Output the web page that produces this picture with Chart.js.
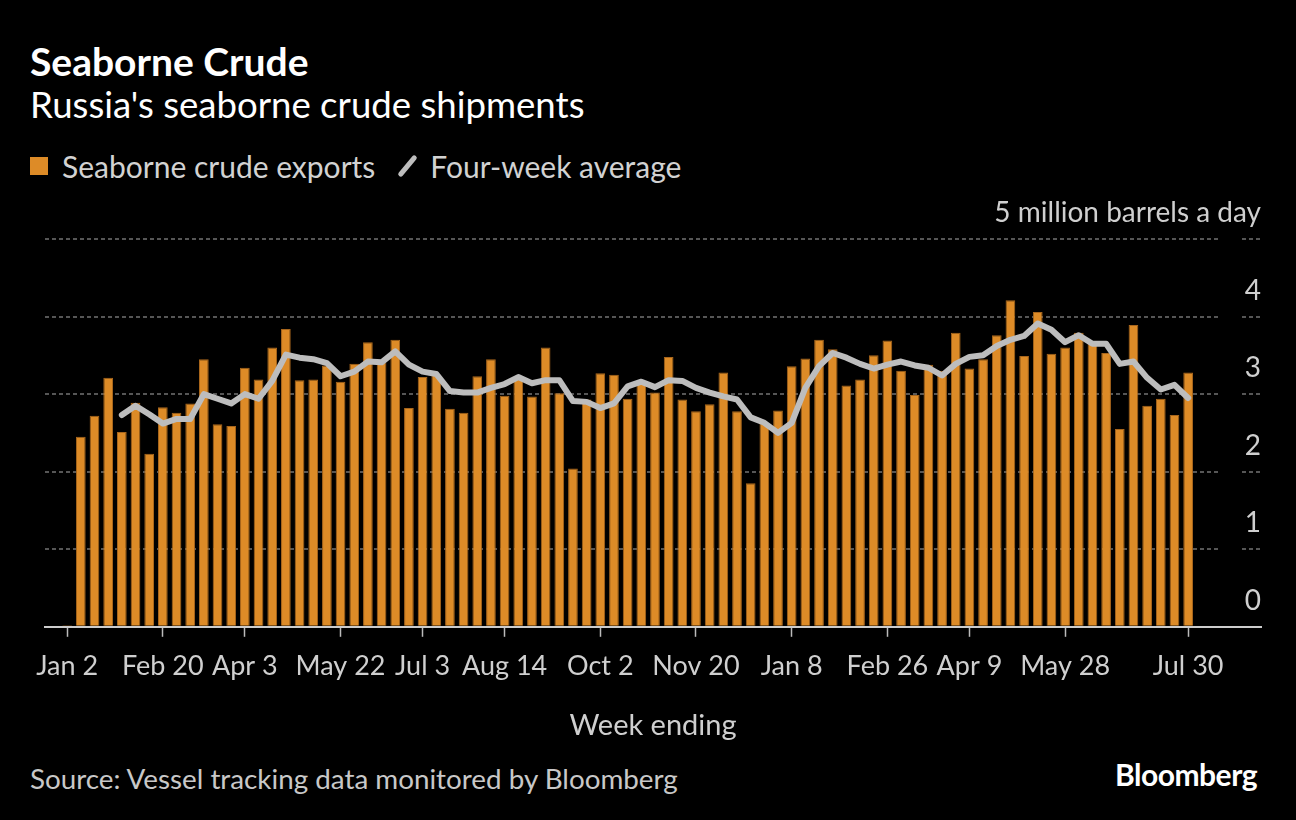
<!DOCTYPE html>
<html>
<head>
<meta charset="utf-8">
<title>Seaborne Crude</title>
<script src="https://cdn.jsdelivr.net/npm/chart.js@4.4.0/dist/chart.umd.min.js"></script>
<style>
  body {
    margin: 0;
    width: 1296px;
    height: 820px;
    overflow: hidden;
    background: #000;
    color: #fff;
    font-family: Lato, "Noto Sans", sans-serif;
    position: relative;
  }
  .txt { position: absolute; white-space: nowrap; line-height: 1.2; }
  #title { left: 30px; top: 38px; font-size: 39px; font-weight: bold; }
  #subtitle { left: 30px; top: 83px; font-size: 36.6px; }
  #legend { left: 30px; top: 148px; font-size: 30px; color: #d2d2d2; display: flex; align-items: center; }
  .swatch { display: inline-block; width: 18px; height: 18px; background: #dd8b27; margin-right: 14px; }
  .slash { display: inline-block; width: 5px; height: 26px; background: #bdbdbd; border-radius: 3px;
           transform: rotate(40deg); margin: 0 20px 0 30px; }
  #source { left: 30px; top: 762px; font-size: 27.8px; color: #c8c8c8; }
  #logo { right: 39px; top: 756px; font-size: 30px; font-weight: bold; letter-spacing: -0.5px; }
  #wrap { position: absolute; left: 0; top: 180px; width: 1296px; height: 580px; }
</style>
</head>
<body>
<div class="txt" id="title">Seaborne Crude</div>
<div class="txt" id="subtitle">Russia's seaborne crude shipments</div>
<div class="txt" id="legend"><span class="swatch"></span>Seaborne crude exports<span class="slash"></span>Four-week average</div>
<div class="txt" id="source">Source: Vessel tracking data monitored by Bloomberg</div>
<div class="txt" id="logo">Bloomberg</div>
<div id="wrap"><canvas id="chart"></canvas></div>

<script>
// week ending dates, Jan 2 2022 .. Jul 30 2023
const weeks = [
  "Jan 2", "Jan 9", "Jan 16", "Jan 23", "Jan 30", "Feb 6", "Feb 13", "Feb 20", "Feb 27",
  "Mar 6", "Mar 13", "Mar 20", "Mar 27", "Apr 3", "Apr 10", "Apr 17", "Apr 24",
  "May 1", "May 8", "May 15", "May 22", "May 29", "Jun 5", "Jun 12", "Jun 19", "Jun 26",
  "Jul 3", "Jul 10", "Jul 17", "Jul 24", "Jul 31", "Aug 7", "Aug 14", "Aug 21", "Aug 28",
  "Sep 4", "Sep 11", "Sep 18", "Sep 25", "Oct 2", "Oct 9", "Oct 16", "Oct 23", "Oct 30",
  "Nov 6", "Nov 13", "Nov 20", "Nov 27", "Dec 4", "Dec 11", "Dec 18", "Dec 25",
  "Jan 1", "Jan 8", "Jan 15", "Jan 22", "Jan 29", "Feb 5", "Feb 12", "Feb 19", "Feb 26",
  "Mar 5", "Mar 12", "Mar 19", "Mar 26", "Apr 2", "Apr 9", "Apr 16", "Apr 23", "Apr 30",
  "May 7", "May 14", "May 21", "May 28", "Jun 4", "Jun 11", "Jun 18", "Jun 25",
  "Jul 2", "Jul 9", "Jul 16", "Jul 23", "Jul 30"
];

// million barrels a day
const exportsMbd = [
  0.02, 2.45, 2.72, 3.21, 2.51, 2.89, 2.23, 2.83, 2.76, 2.88,
  3.45, 2.61, 2.59, 3.34, 3.19, 3.60, 3.84, 3.18, 3.19, 3.37,
  3.16, 3.39, 3.67, 3.41, 3.70, 2.82, 3.22, 3.25, 2.81, 2.76,
  3.23, 3.45, 2.98, 3.20, 2.97, 3.60, 3.01, 2.04, 2.93, 3.27,
  3.25, 2.94, 3.17, 3.02, 3.48, 2.93, 2.78, 2.87, 3.28, 2.78,
  1.85, 2.62, 2.79, 3.36, 3.46, 3.70, 3.58, 3.11, 3.19, 3.50,
  3.69, 3.30, 2.99, 3.38, 3.30, 3.79, 3.33, 3.45, 3.76, 4.21,
  3.49, 4.06, 3.52, 3.60, 3.79, 3.66, 3.53, 2.55, 3.89, 2.85,
  2.94, 2.73, 3.28
];

const fourWeekAvg = [
  null, null, null, null, 2.73, 2.85, 2.74, 2.62, 2.68, 2.68,
  3.00, 2.94, 2.88, 3.00, 2.94, 3.17, 3.51, 3.47, 3.45, 3.40,
  3.23, 3.29, 3.42, 3.41, 3.55, 3.38, 3.29, 3.26, 3.04, 3.02,
  3.02, 3.08, 3.13, 3.22, 3.14, 3.18, 3.18, 2.91, 2.90, 2.82,
  2.88, 3.10, 3.16, 3.09, 3.18, 3.17, 3.08, 3.02, 2.97, 2.93,
  2.70, 2.63, 2.50, 2.63, 3.08, 3.36, 3.53, 3.47, 3.39, 3.33,
  3.38, 3.42, 3.37, 3.34, 3.24, 3.39, 3.48, 3.50, 3.62, 3.70,
  3.75, 3.91, 3.83, 3.67, 3.76, 3.65, 3.65, 3.39, 3.42, 3.21,
  3.06, 3.12, 2.95
];

const tickLabels = ["Jan 2", "Feb 20", "Apr 3", "May 22", "Jul 3", "Aug 14", "Oct 2",
  "Nov 20", "Jan 8", "Feb 26", "Apr 9", "May 28", "Jul 30"];
const yTicks = [0, 1, 2, 3, 4, 5];

const FONT = "Lato";
const LABEL = "#cfcfcf";

// hide the grid lines in a narrow strip left of the value labels, like the original
const gridGap = {
  id: 'gridGap',
  beforeDatasetsDraw(chart) {
    const {ctx, chartArea} = chart;
    ctx.save();
    ctx.fillStyle = '#000';
    ctx.fillRect(chartArea.right - 41, chartArea.top - 3, 19, chartArea.bottom - chartArea.top - 2);
    ctx.restore();
  }
};

new Chart(document.getElementById('chart'), {
  data: {
    datasets: [
      {
        type: 'line',
        label: 'Four-week average',
        data: fourWeekAvg.map((v, i) => ({x: i, y: v})),
        borderColor: '#bdbdbd',
        borderWidth: 6,
        borderJoinStyle: 'round',
        borderCapStyle: 'round',
        pointRadius: 0,
        tension: 0,
        order: 1
      },
      {
        type: 'bar',
        label: 'Seaborne crude exports',
        data: exportsMbd.map((v, i) => ({x: i, y: v})),
        backgroundColor: '#dd8b27',
        borderColor: '#a8661c',
        borderWidth: 1,
        borderSkipped: 'bottom',
        barPercentage: 0.71,
        categoryPercentage: 1,
        order: 2
      }
    ]
  },
  options: {
    responsive: true,
    maintainAspectRatio: false,
    animation: false,
    layout: { padding: { left: 45, right: 35, top: 59, bottom: 17 } },
    plugins: {
      legend: { display: false },
      tooltip: { enabled: false }
    },
    scales: {
      x: {
        type: 'linear',
        offset: false,
        min: -1.62,
        max: 87.33,
        afterBuildTicks: axis => {
          axis.ticks = tickLabels.map(l => ({ value: weeks.indexOf(l) }));
        },
        ticks: {
          autoSkip: false,
          maxRotation: 0,
          padding: 13,
          color: LABEL,
          font: { family: FONT, size: 27 },
          callback: v => weeks[v]
        },
        grid: {
          offset: false,
          drawOnChartArea: false,
          drawTicks: true,
          tickLength: 10,
          tickColor: '#bbbbbb',
          tickWidth: 1.5
        },
        border: { display: true, color: '#cccccc', width: 2 },
        title: {
          display: true,
          text: 'Week ending',
          color: LABEL,
          font: { family: FONT, size: 29 },
          padding: { top: 13, bottom: 0 }
        }
      },
      y: {
        position: 'right',
        min: 0,
        max: 5,
        afterBuildTicks: axis => {
          axis.ticks = yTicks.map(v => ({ value: v }));
        },
        ticks: {
          mirror: true,
          padding: 0,
          labelOffset: -26,
          color: LABEL,
          font: { family: FONT, size: 28 },
          callback: v => v === 5 ? '5 million barrels a day' : v
        },
        grid: {
          drawTicks: false,
          lineWidth: 2,
          color: c => (c.tick && c.tick.value === 0) ? 'rgba(0,0,0,0)' : '#565656'
        },
        border: { display: false, dash: [4, 3] }
      }
    }
  },
  plugins: [gridGap]
});
</script>
</body>
</html>
